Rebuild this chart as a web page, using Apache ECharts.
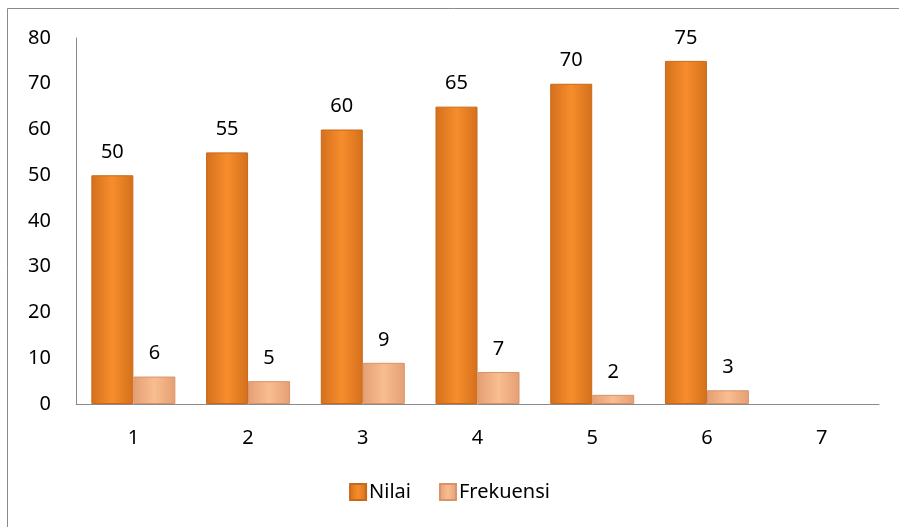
<!DOCTYPE html>
<html>
<head>
<meta charset="utf-8">
<script src="https://cdn.jsdelivr.net/npm/echarts@6/dist/echarts.min.js"></script>
<style>
  html, body { margin: 0; padding: 0; background: #fff; }
  #chart { width: 899px; height: 527px; }
</style>
</head>
<body>
<div id="chart"></div>
<script>
// Chart data
const categories = ['1', '2', '3', '4', '5', '6', '7'];
const nilai = [50, 55, 60, 65, 70, 75, null];
const frekuensi = [6, 5, 9, 7, 2, 3, null];

const chart = echarts.init(document.getElementById('chart'));
const font = 'Noto Sans, sans-serif';

// horizontal gradient: darker edges, lighter middle
function barGradient(edge, mid) {
    return new echarts.graphic.LinearGradient(0, 0, 1, 0, [
        { offset: 0, color: edge },
        { offset: 0.5, color: mid },
        { offset: 1, color: edge }
    ]);
}

const option = {
    backgroundColor: '#fff',
    animation: false,
    graphic: [{
        type: 'rect',
        shape: { x: 7.5, y: 8.5, width: 900, height: 530 },
        style: { fill: 'none', stroke: '#8a8a8a', lineWidth: 1 }
    }],
    grid: { left: 76, top: 38, right: 20, bottom: 123 },
    legend: {
        bottom: 20,
        left: 'center',
        icon: 'rect',
        itemWidth: 16,
        itemHeight: 16,
        itemGap: 28,
        textStyle: { fontFamily: font, fontSize: 20, color: '#000', padding: [0, 0, 0, -2] },
        data: ['Nilai', 'Frekuensi']
    },
    xAxis: {
        type: 'category',
        data: categories,
        axisLine: { lineStyle: { color: '#8a8a8a' } },
        axisTick: { show: false },
        axisLabel: { fontFamily: font, fontSize: 20, color: '#000', margin: 24 }
    },
    yAxis: {
        type: 'value',
        min: 0,
        max: 80,
        interval: 10,
        axisLine: { show: true, lineStyle: { color: '#8a8a8a' } },
        axisTick: { show: false },
        splitLine: { show: false },
        axisLabel: { fontFamily: font, fontSize: 20, color: '#000', margin: 25 }
    },
    series: [
        {
            name: 'Nilai',
            type: 'bar',
            data: nilai,
            barWidth: 42,
            barGap: '0%',
            itemStyle: {
                color: barGradient('#d4701c', '#f78d2c'),
                borderColor: '#c8681a',
                borderWidth: 1
            },
            label: {
                show: true, position: 'top', distance: 13,
                fontFamily: font, fontSize: 20, color: '#000'
            }
        },
        {
            name: 'Frekuensi',
            type: 'bar',
            data: frekuensi,
            barWidth: 42,
            itemStyle: {
                color: barGradient('#e59f74', '#f8bd90'),
                borderColor: '#d9936a',
                borderWidth: 1
            },
            label: {
                show: true, position: 'top', distance: 13,
                fontFamily: font, fontSize: 20, color: '#000'
            }
        }
    ]
};

chart.setOption(option);
</script>
</body>
</html>
